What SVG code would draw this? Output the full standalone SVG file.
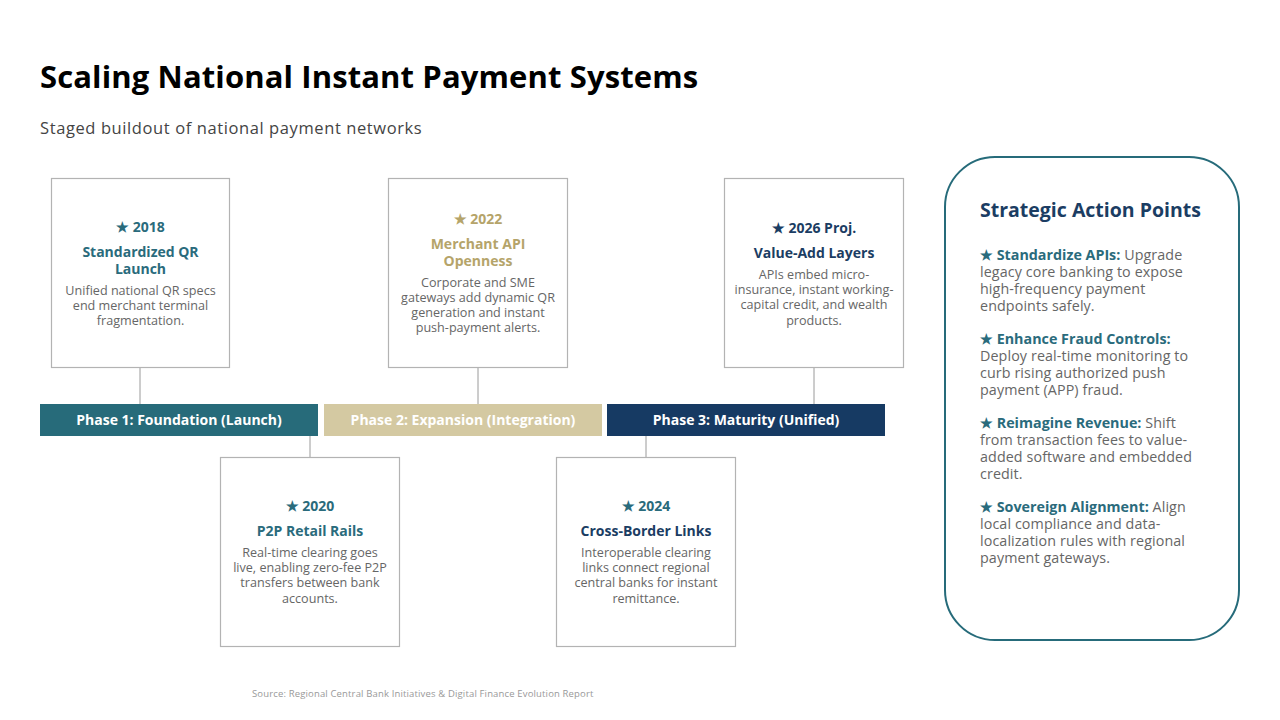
<svg xmlns="http://www.w3.org/2000/svg" width="1280" height="720" viewBox="0 0 1280 720">
<style>
text{font-family:"Open Sans",Lato,"Liberation Sans",sans-serif}
.title{font-size:31px;font-weight:700;fill:#000;letter-spacing:0.12px}
.sub{font-size:16.5px;fill:#444;letter-spacing:0.6px}
.box{fill:#fff;stroke:#b3b3b3;stroke-width:1.2}
.yr{font-size:14px;font-weight:700;text-anchor:middle}
.hd{font-size:14px;font-weight:700;text-anchor:middle}
.bd{font-size:12.6px;fill:#666;text-anchor:middle}
.teal{fill:#2a6b7c}
.gold{fill:#b5a46a}
.navy{fill:#1b3d63}
.conn line{stroke:#9a9a9a;stroke-width:1}
.ph{font-size:14px;font-weight:700;fill:#fff;text-anchor:middle}
.pt{font-size:19.5px;font-weight:700;fill:#1b3d63}
.it{font-size:14.3px;fill:#666;letter-spacing:0.1px}
.ib{font-weight:700;fill:#2a6b7c;letter-spacing:0}
.src{font-size:9.5px;fill:#999;letter-spacing:0.15px}
</style>
<rect width="1280" height="720" fill="#fff"/>
<text class="title" x="40" y="88">Scaling National Instant Payment Systems</text>
<text class="sub" x="40" y="134">Staged buildout of national payment networks</text>

<g id="connectors" class="conn">
<line x1="140" y1="367" x2="140" y2="404"/>
<line x1="478" y1="367" x2="478" y2="404"/>
<line x1="814" y1="367" x2="814" y2="404"/>
<line x1="310" y1="436" x2="310" y2="457"/>
<line x1="646" y1="436" x2="646" y2="457"/>
</g>

<g id="phase1"><rect x="40" y="404" width="278" height="32" fill="#276b7a"/><text class="ph" x="179" y="425">Phase 1: Foundation (Launch)</text></g>
<g id="phase2"><rect x="324" y="404" width="278" height="32" fill="#d4c9a2"/><text class="ph" x="463" y="425">Phase 2: Expansion (Integration)</text></g>
<g id="phase3"><rect x="607" y="404" width="278" height="32" fill="#163a63"/><text class="ph" x="746" y="425">Phase 3: Maturity (Unified)</text></g>

<g id="m2018">
<rect class="box" x="51.5" y="178.5" width="178" height="189"/>
<text class="yr teal" x="140.5" y="232">★ 2018</text>
<text class="hd teal" x="140.5" y="257">Standardized QR</text>
<text class="hd teal" x="140.5" y="274">Launch</text>
<text class="bd" x="140.5" y="295">Unified national QR specs</text>
<text class="bd" x="140.5" y="310">end merchant terminal</text>
<text class="bd" x="140.5" y="325">fragmentation.</text>
</g>

<g id="m2022">
<rect class="box" x="388.5" y="178.5" width="179" height="189"/>
<text class="yr gold" x="478" y="224">★ 2022</text>
<text class="hd gold" x="478" y="249">Merchant API</text>
<text class="hd gold" x="478" y="266">Openness</text>
<text class="bd" x="478" y="287">Corporate and SME</text>
<text class="bd" x="478" y="302">gateways add dynamic QR</text>
<text class="bd" x="478" y="317">generation and instant</text>
<text class="bd" x="478" y="332">push-payment alerts.</text>
</g>

<g id="m2026">
<rect class="box" x="724.5" y="178.5" width="179" height="189"/>
<text class="yr navy" x="814" y="233">★ 2026 Proj.</text>
<text class="hd navy" x="814" y="258">Value-Add Layers</text>
<text class="bd" x="814" y="279">APIs embed micro-</text>
<text class="bd" x="814" y="294">insurance, instant working-</text>
<text class="bd" x="814" y="309">capital credit, and wealth</text>
<text class="bd" x="814" y="325">products.</text>
</g>

<g id="m2020">
<rect class="box" x="220.5" y="457.5" width="179" height="189"/>
<text class="yr teal" x="310" y="511">★ 2020</text>
<text class="hd teal" x="310" y="536">P2P Retail Rails</text>
<text class="bd" x="310" y="557">Real-time clearing goes</text>
<text class="bd" x="310" y="572">live, enabling zero-fee P2P</text>
<text class="bd" x="310" y="587">transfers between bank</text>
<text class="bd" x="310" y="603">accounts.</text>
</g>

<g id="m2024">
<rect class="box" x="556.5" y="457.5" width="179" height="189"/>
<text class="yr teal" x="646" y="511">★ 2024</text>
<text class="hd navy" x="646" y="536">Cross-Border Links</text>
<text class="bd" x="646" y="557">Interoperable clearing</text>
<text class="bd" x="646" y="572">links connect regional</text>
<text class="bd" x="646" y="587">central banks for instant</text>
<text class="bd" x="646" y="603">remittance.</text>
</g>

<g id="actions">
<rect x="945" y="157" width="294" height="483" rx="50" fill="#fff" stroke="#266b7a" stroke-width="2"/>
<text class="pt" x="980" y="217">Strategic Action Points</text>
<text class="it" x="980" y="260"><tspan class="ib">★ Standardize APIs:</tspan> Upgrade</text>
<text class="it" x="980" y="277">legacy core banking to expose</text>
<text class="it" x="980" y="294">high-frequency payment</text>
<text class="it" x="980" y="311">endpoints safely.</text>
<text class="it" x="980" y="344"><tspan class="ib">★ Enhance Fraud Controls:</tspan></text>
<text class="it" x="980" y="361">Deploy real-time monitoring to</text>
<text class="it" x="980" y="378">curb rising authorized push</text>
<text class="it" x="980" y="395">payment (APP) fraud.</text>
<text class="it" x="980" y="428"><tspan class="ib">★ Reimagine Revenue:</tspan> Shift</text>
<text class="it" x="980" y="445">from transaction fees to value-</text>
<text class="it" x="980" y="462">added software and embedded</text>
<text class="it" x="980" y="479">credit.</text>
<text class="it" x="980" y="512"><tspan class="ib">★ Sovereign Alignment:</tspan> Align</text>
<text class="it" x="980" y="529">local compliance and data-</text>
<text class="it" x="980" y="546">localization rules with regional</text>
<text class="it" x="980" y="563">payment gateways.</text>
</g>

<text class="src" x="252" y="697">Source: Regional Central Bank Initiatives &amp; Digital Finance Evolution Report</text>
</svg>
